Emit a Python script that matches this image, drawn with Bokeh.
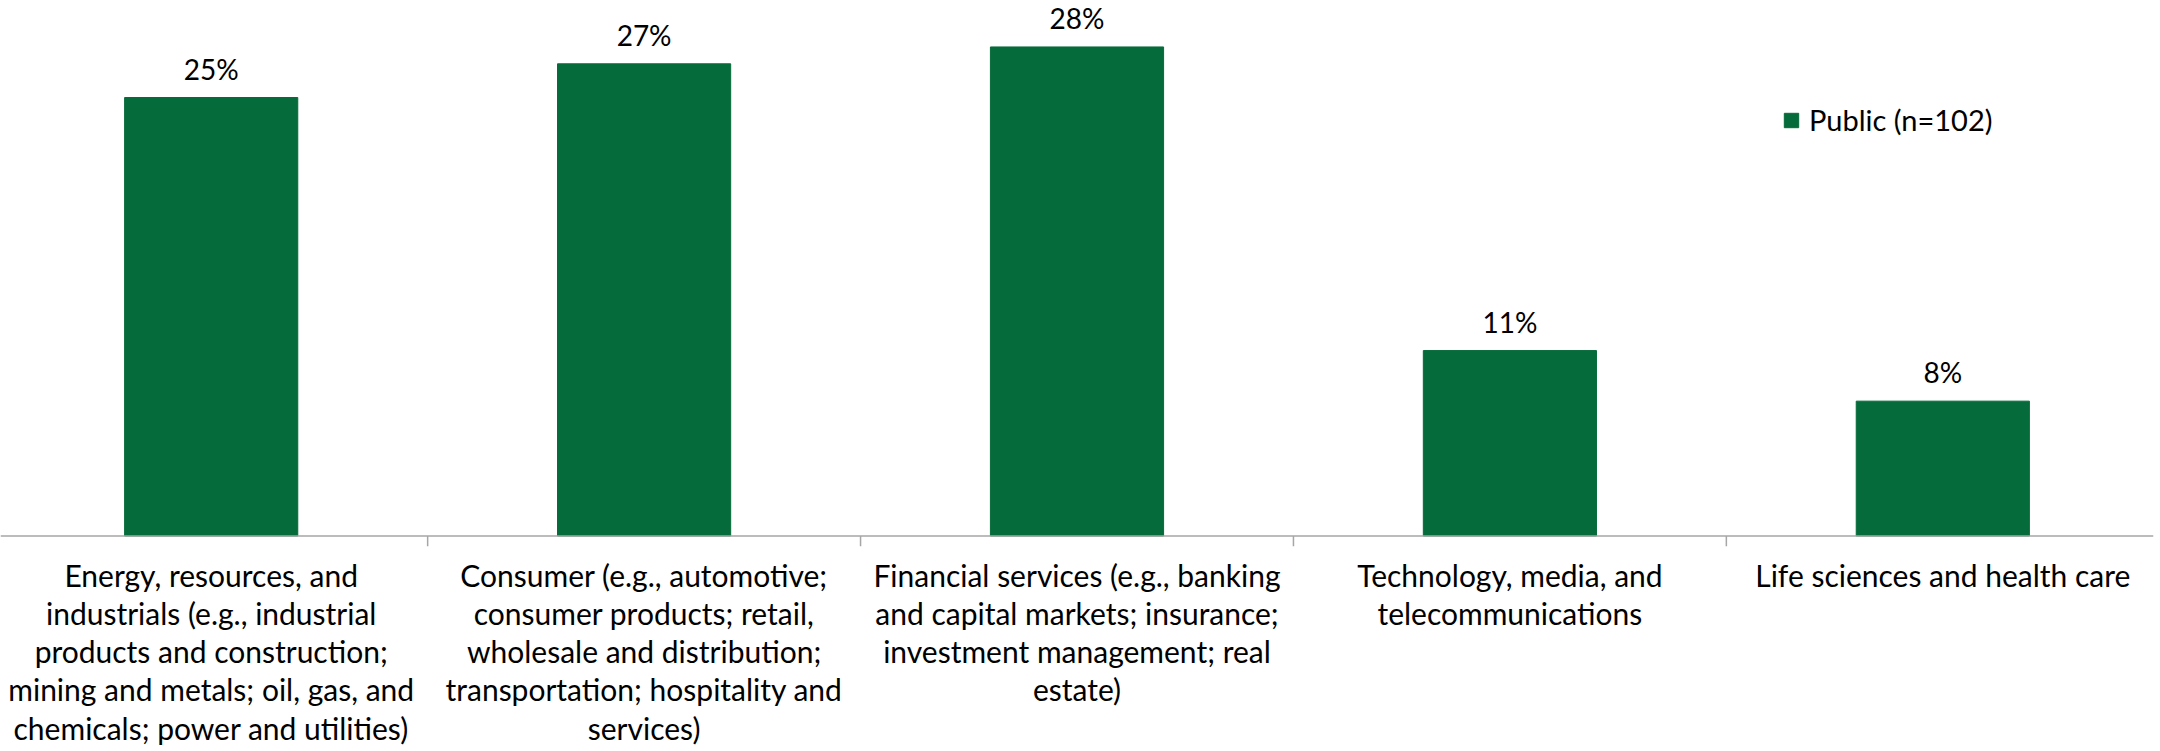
from bokeh.plotting import figure
from bokeh.models import Range1d, FactorRange, ColumnDataSource, Span, Legend, LegendItem
from bokeh.core.properties import value
from bokeh.embed import file_html
from bokeh.resources import INLINE

categories = [
    "Energy, resources, and\nindustrials (e.g., industrial\nproducts and construction;\nmining and metals; oil, gas, and\nchemicals; power and utilities)",
    "Consumer (e.g., automotive;\nconsumer products; retail,\nwholesale and distribution;\ntransportation; hospitality and\nservices)",
    "Financial services (e.g., banking\nand capital markets; insurance;\ninvestment management; real\nestate)",
    "Technology, media, and\ntelecommunications",
    "Life sciences and health care",
]
public_pct = [25.49, 27.45, 28.43, 10.78, 7.84]
series_name = "Public (n=102)"
labels = [f"{v:.0f}%" for v in public_pct]

FONT = "Lato"
GREEN = "#066B3A"
AXIS = "#A6A6A6"
Y0, Y1 = -0.61, 31.13

src = ColumnDataSource(dict(cat=categories, val=public_pct, lab=labels))

x_range = FactorRange(*categories, range_padding=-0.0133, range_padding_units="absolute")
p = figure(
    x_range=x_range,
    y_range=Range1d(Y0, Y1),
    width=2160, height=751,
    output_backend="svg", toolbar_location=None,
    min_border_left=0, min_border_right=7, min_border_top=0, min_border_bottom=205,
)
p.outline_line_color = None
p.grid.visible = False
p.yaxis.visible = False

r = p.vbar(x="cat", top="val", width=0.4, source=src, fill_color=GREEN, line_color=GREEN)

p.text(x="cat", y="val", text="lab", source=src, text_align="center", text_baseline="middle",
       y_offset=-29, text_font=value(FONT), text_font_size="28px", text_color="#000000")

# axis baseline and category boundary ticks
p.add_layout(Span(location=0, dimension="width", line_color=AXIS, line_width=1.5))
p.segment(x0=[1, 2, 3, 4], y0=[0] * 4, x1=[1, 2, 3, 4], y1=[Y0] * 4,
          line_color=AXIS, line_width=1.5)

ax = p.xaxis[0]
ax.axis_line_color = None
ax.major_tick_line_color = None
ax.major_tick_in = 0
ax.major_tick_out = 0
ax.major_label_standoff = 10
ax.major_label_text_font = FONT
ax.major_label_text_font_size = "30px"
ax.major_label_text_color = "#000000"
ax.major_label_text_line_height = 1.064

legend = Legend(items=[LegendItem(label=series_name, renderers=[r])],
                location=(1782, 409), orientation="vertical",
                border_line_color=None, background_fill_alpha=0,
                padding=0, margin=0, glyph_width=18, glyph_height=18, label_standoff=9,
                label_text_font=FONT, label_text_font_size="29px", label_text_color="#000000")
p.add_layout(legend)

open("out.html", "w").write(file_html(p, INLINE))
